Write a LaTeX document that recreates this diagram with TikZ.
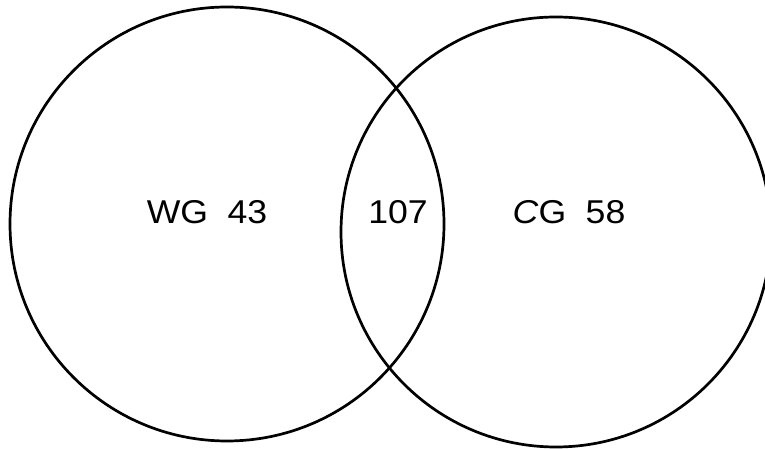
\documentclass[tikz,border=0pt]{standalone}
\usepackage{fontspec}
\setmainfont{Liberation Sans}
\begin{document}
\begin{tikzpicture}[x=1pt,y=1pt,
  setcircle/.style={draw=black, line width=2.7pt, circle, minimum size=#1, inner sep=0pt},
  lbl/.style={font=\fontsize{33}{36}\selectfont, inner sep=0pt, anchor=center}]
\useasboundingbox (0,0) rectangle (765,449);
\begin{scope}
\clip (0,0) rectangle (765,449);
\node[setcircle=434pt] (wg) at (227,225) {};
\node[setcircle=430pt] (cg) at (556,217) {};
\end{scope}
\node[lbl] (wgl) at (207,237) {\scalebox{1.08}[1]{WG\hspace{18pt}43}};
\node[lbl] (mid) at (398,237) {\scalebox{1.08}[1]{107}};
\node[lbl] (cgl) at (569,237) {\scalebox{1.08}[1]{\textit{C}G\hspace{18pt}58}};
\end{tikzpicture}
\end{document}
